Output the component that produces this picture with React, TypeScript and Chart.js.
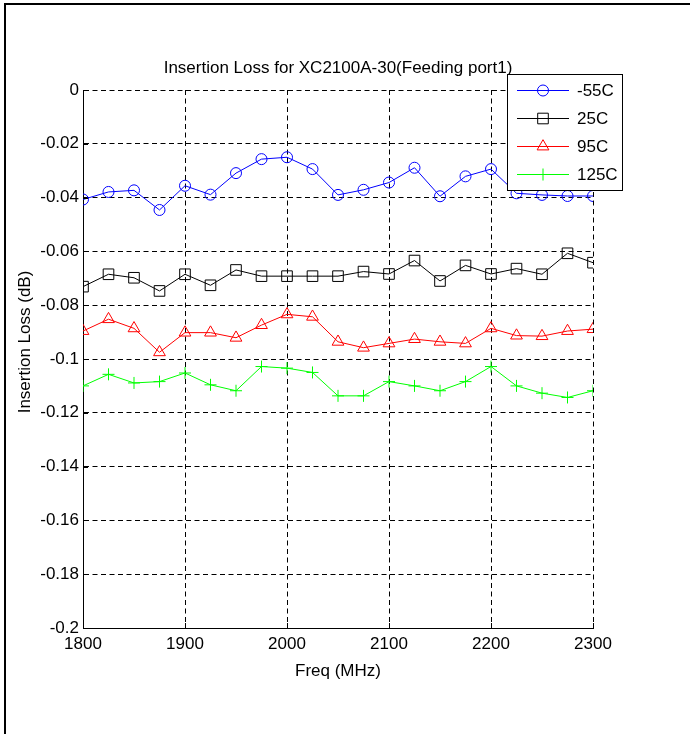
import React, { useEffect, useRef } from 'react';
import { Chart, registerables } from 'chart.js';

Chart.register(...registerables);

const freqs = [1800, 1825, 1850, 1875, 1900, 1925, 1950, 1975, 2000, 2025, 2050, 2075, 2100, 2125, 2150, 2175, 2200, 2225, 2250, 2275, 2300];
const seriesLabels = ['-55C', '25C', '95C', '125C'];
const lossM55 = [-0.0407, -0.0379, -0.0373, -0.0446, -0.0356, -0.0389, -0.0309, -0.0257, -0.0250, -0.0294, -0.0390, -0.0371, -0.0344, -0.0289, -0.0395, -0.0321, -0.0294, -0.0384, -0.0390, -0.0394, -0.0394];
const loss25 = [-0.0731, -0.0685, -0.0698, -0.0747, -0.0685, -0.0726, -0.0669, -0.0692, -0.0692, -0.0692, -0.0692, -0.0675, -0.0684, -0.0634, -0.0710, -0.0652, -0.0684, -0.0664, -0.0685, -0.0607, -0.0642];
const loss95 = [-0.0896, -0.0852, -0.0886, -0.0975, -0.0902, -0.0902, -0.0921, -0.0874, -0.0834, -0.0843, -0.0936, -0.0958, -0.0942, -0.0926, -0.0936, -0.0942, -0.0886, -0.0913, -0.0915, -0.0896, -0.0889];
const loss125 = [-0.1100, -0.1057, -0.1089, -0.1084, -0.1052, -0.1096, -0.1118, -0.1028, -0.1034, -0.1050, -0.1137, -0.1137, -0.1084, -0.1100, -0.1118, -0.1084, -0.1028, -0.1100, -0.1127, -0.1143, -0.1118];
const xTickLabels = ['1800', '1900', '2000', '2100', '2200', '2300'];
const yTickLabels = ['0', '-0.02', '-0.04', '-0.06', '-0.08', '-0.1', '-0.12', '-0.14', '-0.16', '-0.18', '-0.2'];
const chartTitle = 'Insertion Loss for XC2100A-30(Feeding port1)';
const xTitle = 'Freq (MHz)';
const yTitle = 'Insertion Loss (dB)';

const FONT = '"Liberation Sans", Arial, Helvetica, sans-serif';
const FS = 17;

function drawMarker(ctx: CanvasRenderingContext2D, style: string, x: number, y: number, r: number) {
  ctx.beginPath();
  if (style === 'circle') {
    ctx.arc(x, y, r, 0, Math.PI * 2);
  } else if (style === 'rect') {
    const s = r * Math.SQRT1_2;
    ctx.rect(x - s, y - s, 2 * s, 2 * s);
  } else if (style === 'triangle') {
    const w = r * Math.sin(Math.PI / 3);
    ctx.moveTo(x, y - r);
    ctx.lineTo(x + w, y + r / 2);
    ctx.lineTo(x - w, y + r / 2);
    ctx.closePath();
  } else if (style === 'cross') {
    ctx.moveTo(x, y - r);
    ctx.lineTo(x, y + r);
    ctx.moveTo(x - r, y);
    ctx.lineTo(x + r, y);
  }
  ctx.stroke();
}

const overlayPlugin = {
  id: 'matlabOverlay',
  afterDraw(chart: any) {
    const ctx: CanvasRenderingContext2D = chart.ctx;
    const area = chart.chartArea;
    const xs = chart.scales.x;
    const ys = chart.scales.y;
    ctx.save();
    // inside tick marks
    ctx.strokeStyle = '#000';
    ctx.lineWidth = 1;
    ctx.setLineDash([]);
    xTickLabels.forEach((t) => {
      const px = Math.round(xs.getPixelForValue(parseFloat(t))) + 0.5;
      ctx.beginPath();
      ctx.moveTo(px, area.bottom);
      ctx.lineTo(px, area.bottom - 5);
      ctx.stroke();
    });
    yTickLabels.forEach((t) => {
      const py = Math.round(ys.getPixelForValue(parseFloat(t))) + 0.5;
      ctx.beginPath();
      ctx.moveTo(area.left, py);
      ctx.lineTo(area.left + 5, py);
      ctx.stroke();
    });
    // titles
    ctx.fillStyle = '#000';
    ctx.font = `${FS}px ${FONT}`;
    ctx.textAlign = 'center';
    ctx.textBaseline = 'middle';
    const cx = (area.left + area.right) / 2;
    ctx.fillText(chartTitle, cx, 68);
    ctx.fillText(xTitle, cx, 671);
    ctx.save();
    ctx.translate(25, 342);
    ctx.rotate(-Math.PI / 2);
    ctx.fillText(yTitle, 0, 0);
    ctx.restore();
    // legend
    const lx = 507.5, ly = 74.5, lw = 115, lh = 116;
    ctx.fillStyle = '#fff';
    ctx.fillRect(lx, ly, lw, lh);
    ctx.strokeStyle = '#000';
    ctx.lineWidth = 1;
    ctx.strokeRect(lx, ly, lw, lh);
    const rowsY = [90, 118, 146, 174];
    chart.data.datasets.forEach((ds: any, i: number) => {
      const y = rowsY[i];
      ctx.strokeStyle = ds.borderColor;
      ctx.lineWidth = 1;
      ctx.beginPath();
      ctx.moveTo(517, y + 0.5);
      ctx.lineTo(569, y + 0.5);
      ctx.stroke();
      drawMarker(ctx, ds.pointStyle, 543, y + 0.5, ds.pointRadius);
      ctx.fillStyle = '#000';
      ctx.textAlign = 'left';
      ctx.textBaseline = 'middle';
      ctx.fillText(ds.label, 577, y + 1);
    });
    ctx.restore();
  },
};

function makeData(vals: number[]) {
  return freqs.map((f, i) => ({ x: f, y: vals[i] }));
}

export default function App() {
  const ref = useRef<HTMLCanvasElement | null>(null);
  useEffect(() => {
    if (!ref.current) return;
    const seriesVals = [lossM55, loss25, loss95, loss125];
    const colors = ['#0000ff', '#000000', '#ff0000', '#00ff00'];
    const styles = ['circle', 'rect', 'triangle', 'cross'];
    const radii = [5.5, 7.5, 6.8, 6];
    const chart = new Chart(ref.current, {
      type: 'line',
      data: {
        datasets: seriesVals.map((v, i) => ({
          label: seriesLabels[i],
          data: makeData(v),
          borderColor: colors[i],
          backgroundColor: 'rgba(0,0,0,0)',
          borderWidth: 1,
          pointStyle: styles[i] as any,
          pointRadius: radii[i],
          pointBorderWidth: 1,
          pointBorderColor: colors[i],
          pointBackgroundColor: 'rgba(0,0,0,0)',
          tension: 0,
          fill: false,
        })),
      },
      options: {
        animation: false,
        responsive: false,
        devicePixelRatio: 1,
        layout: { padding: { top: 90, right: 97, left: 0, bottom: 0 } },
        plugins: {
          legend: { display: false },
          title: { display: false },
          tooltip: { enabled: false },
        },
        font: { family: FONT, size: FS },
        scales: {
          x: {
            type: 'linear',
            min: 1800,
            max: 2300,
            afterFit: (s: any) => { s.height = 106; },
            ticks: {
              stepSize: 100,
              autoSkip: false,
              maxRotation: 0,
              color: '#000',
              padding: 6,
              font: { family: FONT, size: FS },
              callback: (v: any) => xTickLabels.find((l) => Math.abs(parseFloat(l) - v) < 1e-6) ?? '',
            },
            grid: { color: '#000', lineWidth: 1, drawTicks: false },
            border: { display: true, color: '#000', width: 1, dash: [5, 3.5] },
          },
          y: {
            type: 'linear',
            min: -0.2,
            max: 0,
            afterFit: (s: any) => { s.width = 83; },
            ticks: {
              stepSize: 0.02,
              autoSkip: false,
              color: '#000',
              padding: 4,
              font: { family: FONT, size: FS },
              callback: (v: any) => yTickLabels.find((l) => Math.abs(parseFloat(l) - v) < 1e-6) ?? '',
            },
            grid: { color: '#000', lineWidth: 1, drawTicks: false },
            border: { display: true, color: '#000', width: 1, dash: [5, 3.5] },
          },
        },
      } as any,
      plugins: [overlayPlugin],
    });
    return () => chart.destroy();
  }, []);
  return (
    <div style={{ position: 'absolute', left: 0, top: 0, width: 690, height: 734, overflow: 'hidden', background: '#fff' }}>
      <canvas ref={ref} width={690} height={734} style={{ position: 'absolute', left: 0, top: 0, width: 690, height: 734 }} />
      <div style={{ position: 'absolute', left: 4, top: 3, width: 1000, height: 1000, borderLeft: '2px solid #000', borderTop: '2px solid #000', pointerEvents: 'none' }} />
    </div>
  );
}
